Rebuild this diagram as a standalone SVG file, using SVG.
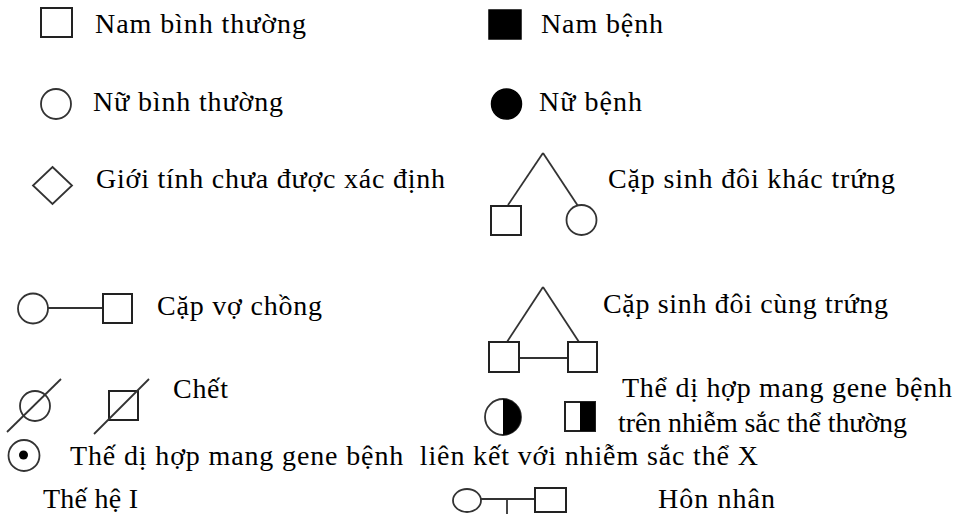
<svg xmlns="http://www.w3.org/2000/svg" width="960" height="514" viewBox="0 0 960 514">
<style>
  text { font-family: "Liberation Serif", "Times New Roman", serif; font-size: 28px; fill: #000; white-space: pre; }
  .sym { fill: #fff; stroke: #222; stroke-width: 2; }
  .circ { fill: #fff; stroke: #333; stroke-width: 1.8; }
  .blk { fill: #000; stroke: #000; stroke-width: 1.5; }
  .ln { fill: none; stroke: #333; stroke-width: 1.8; }
</style>
<rect width="960" height="514" fill="#fff"/>

<g id="connectors">
  <line class="ln" x1="543" y1="153" x2="508" y2="205"/>
  <line class="ln" x1="543" y1="153" x2="578" y2="206"/>
  <line class="ln" x1="48" y1="308" x2="103" y2="308"/>
  <line class="ln" x1="543" y1="287" x2="507" y2="342"/>
  <line class="ln" x1="543" y1="287" x2="579" y2="342"/>
  <line class="ln" x1="519" y1="358" x2="568" y2="358"/>
  <line class="ln" x1="481" y1="499" x2="535" y2="499"/>
  <line class="ln" x1="507" y1="499" x2="507" y2="514"/>
</g>

<g id="normal-male">
  <rect class="sym" x="41" y="8" width="31" height="29"/>
  <text x="95" y="33" textLength="211" lengthAdjust="spacing">Nam bình thường</text>
</g>
<g id="affected-male">
  <rect class="blk" x="489" y="10" width="32" height="29"/>
  <text x="541" y="33" textLength="122" lengthAdjust="spacing">Nam bệnh</text>
</g>
<g id="normal-female">
  <circle class="circ" cx="56" cy="104" r="15"/>
  <text x="93" y="111" textLength="190" lengthAdjust="spacing">Nữ bình thường</text>
</g>
<g id="affected-female">
  <circle class="blk" cx="506.5" cy="104" r="15"/>
  <text x="539" y="111" textLength="103" lengthAdjust="spacing">Nữ bệnh</text>
</g>
<g id="unknown-sex">
  <polygon class="circ" points="52.5,167 72,185.5 52.5,204 33,185.5"/>
  <text x="96" y="188" textLength="349" lengthAdjust="spacing">Giới tính chưa được xác định</text>
</g>
<g id="dizygotic-twins">
  <rect class="sym" x="491" y="206" width="30" height="29"/>
  <circle class="circ" cx="581.5" cy="220" r="15"/>
  <text x="608" y="188" textLength="287" lengthAdjust="spacing">Cặp sinh đôi khác trứng</text>
</g>
<g id="couple">
  <circle class="circ" cx="33" cy="308.5" r="15"/>
  <rect class="sym" x="103" y="294" width="29" height="29"/>
  <text x="157" y="315" textLength="165" lengthAdjust="spacing">Cặp vợ chồng</text>
</g>
<g id="monozygotic-twins">
  <rect class="sym" x="489" y="342" width="30" height="30"/>
  <rect class="sym" x="568" y="342" width="29" height="30"/>
  <text x="603" y="313" textLength="285" lengthAdjust="spacing">Cặp sinh đôi cùng trứng</text>
</g>
<g id="deceased">
  <circle class="circ" cx="35" cy="406" r="15"/>
  <line class="ln" x1="7" y1="432" x2="61" y2="379"/>
  <rect class="sym" x="109" y="391" width="29" height="29"/>
  <line class="ln" x1="94" y1="434" x2="149" y2="379"/>
  <text x="173" y="398" textLength="55" lengthAdjust="spacing">Chết</text>
</g>
<g id="autosomal-carrier">
  <circle class="circ" cx="503" cy="417" r="18"/>
  <path d="M503,399 A18,18 0 0 1 503,435 Z" fill="#000"/>
  <rect class="sym" x="565" y="402" width="30" height="29"/>
  <rect x="580" y="402" width="15" height="29" fill="#000"/>
  <text x="622" y="397" textLength="330" lengthAdjust="spacing">Thể dị hợp mang gene bệnh</text>
  <text x="618" y="432" textLength="289" lengthAdjust="spacing">trên nhiễm sắc thể thường</text>
</g>
<g id="x-linked-carrier">
  <circle class="circ" cx="24" cy="455.5" r="15.5"/>
  <circle cx="23.5" cy="455" r="4.5" fill="#000"/>
  <text x="70" y="465" textLength="688" lengthAdjust="spacing">Thế dị hợp mang gene bệnh  liên kết với nhiễm sắc thể X</text>
</g>
<g id="generation">
  <text x="43" y="508" textLength="95" lengthAdjust="spacing">Thế hệ I</text>
</g>
<g id="marriage">
  <ellipse class="circ" cx="467" cy="500.5" rx="14" ry="11.5"/>
  <rect class="sym" x="535" y="488" width="31" height="24"/>
  <text x="658" y="508" textLength="117" lengthAdjust="spacing">Hôn nhân</text>
</g>
</svg>
